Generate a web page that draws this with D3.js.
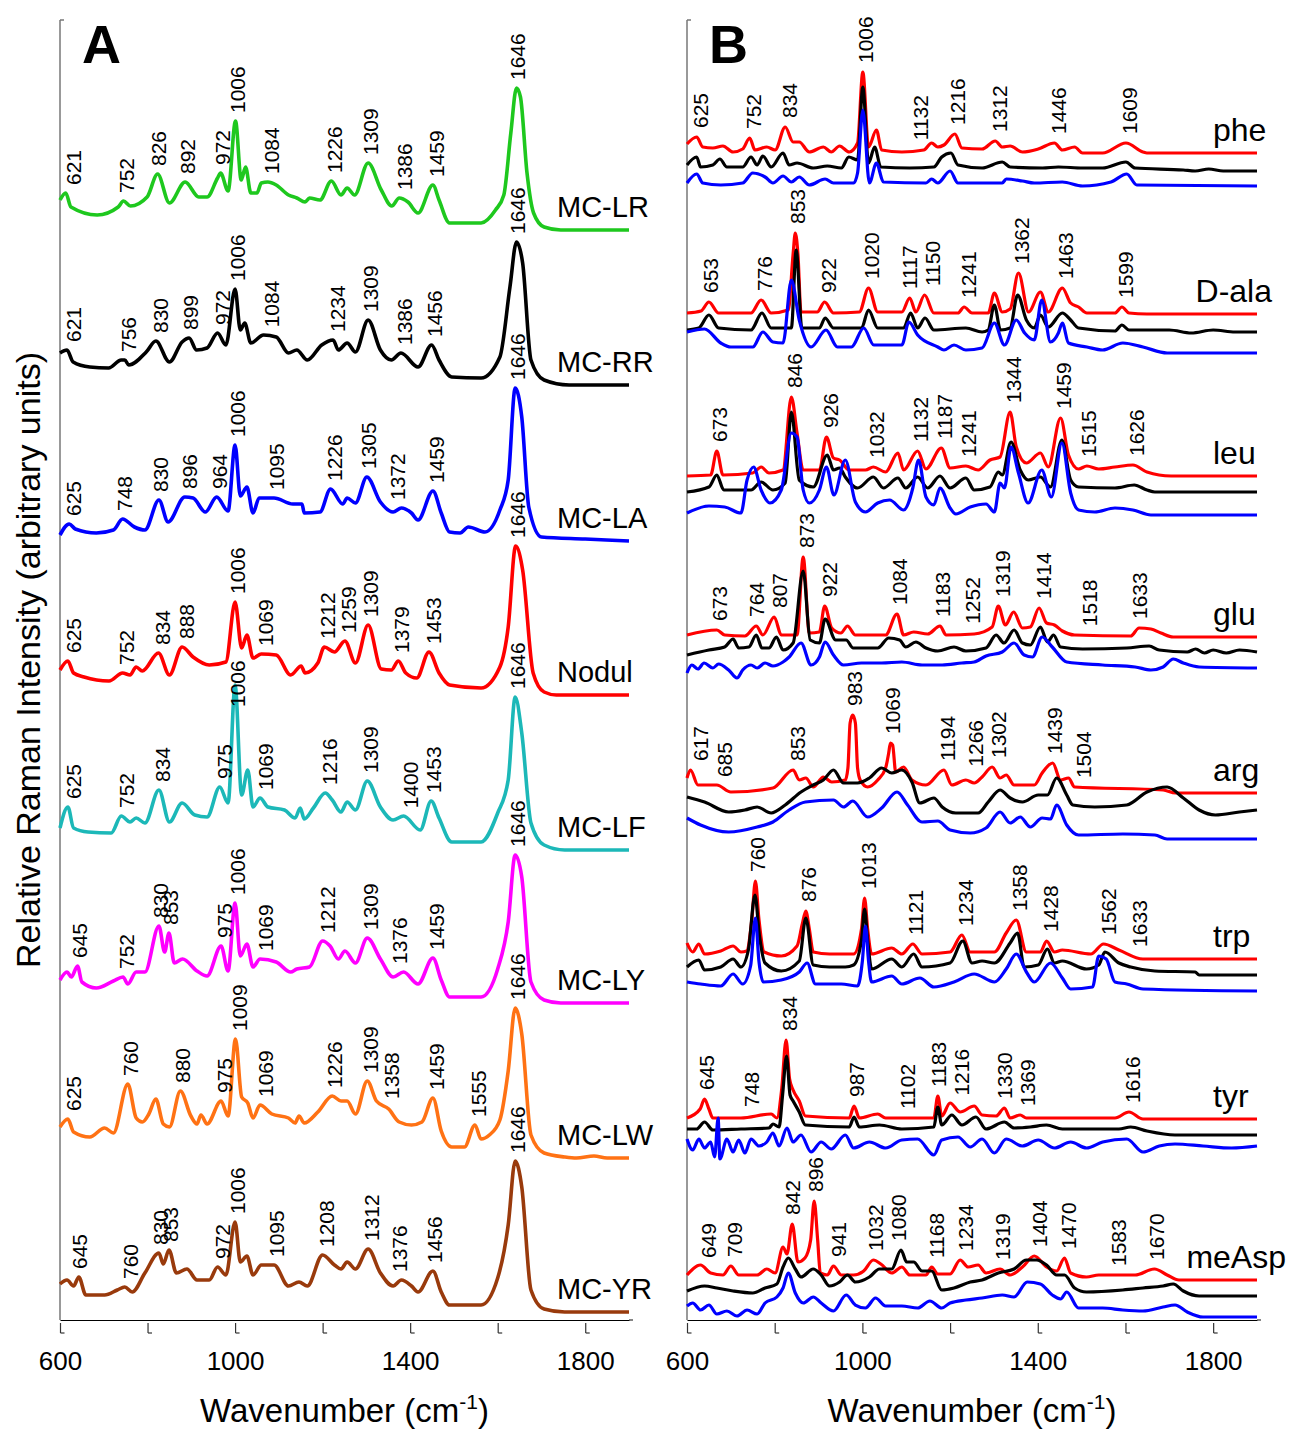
<!DOCTYPE html>
<html>
<head>
<meta charset="utf-8">
<script src="https://cdn.jsdelivr.net/npm/d3@7"></script>
<style>
  body { margin: 0; background: #fff; }
  text { font-family: Arial, "Liberation Sans", sans-serif; fill: #000; }
</style>
</head>
<body>
<div class="chart"></div>
<script>
// ---------- panel A: microcystin spectra (wavenumber, intensity above own baseline) ----------
var namesA = ["MC-LR", "MC-RR", "MC-LA", "Nodul", "MC-LF", "MC-LY", "MC-LW", "MC-YR"];
var colorsA = ["#1ec81e", "#000000", "#0000ff", "#ff0000", "#1cb8b8", "#ff00ff", "#ff7214", "#993a0c"];
var stackA = [1090, 935, 779, 625, 470, 317, 162, 8];

var mcLR = [[600,30],[613,37],[625,23],[685,15],[733,23],[745,29],[761,24],[799,33],[823,56],[850,27],[886,48],[917,33],[936,33],[960,52],[967,57],[984,39],[1001,109],[1014,50],[1024,63],[1036,37],[1050,37],[1060,47],[1075,48],[1094,45],[1122,35],[1141,32],[1160,28],[1170,32],[1194,30],[1220,49],[1242,35],[1256,42],[1273,35],[1304,67],[1334,40],[1358,24],[1375,32],[1395,28],[1418,17],[1452,45],[1466,30],[1490,7],[1562,7],[1595,20],[1614,35],[1630,97],[1643,142],[1652,133],[1667,57],[1682,17],[1706,3],[1744,0],[1900,0]];
var mcRR = [[600,32],[616,35],[630,23],[668,18],[711,17],[740,25],[748,25],[757,20],[797,33],[819,44],[850,23],[879,43],[895,47],[912,35],[936,37],[960,52],[979,40],[1000,96],[1012,55],[1022,62],[1036,42],[1065,50],[1094,48],[1122,32],[1141,35],[1165,25],[1198,40],[1224,45],[1236,35],[1256,42],[1275,33],[1304,65],[1332,35],[1357,25],[1379,32],[1418,18],[1449,40],[1466,25],[1495,8],[1562,7],[1605,28],[1628,98],[1643,143],[1657,122],[1676,25],[1706,5],[1763,0],[1900,0]];
var mcLA = [[600,6],[621,17],[635,12],[683,8],[722,11],[743,22],[770,14],[794,11],[826,41],[847,19],[885,44],[904,43],[932,29],[958,44],[984,30],[1000,96],[1012,45],[1027,54],[1041,28],[1055,43],[1089,43],[1132,37],[1153,37],[1158,28],[1194,29],[1218,52],[1246,37],[1256,43],[1275,38],[1301,64],[1332,39],[1361,29],[1380,33],[1403,28],[1418,21],[1452,50],[1471,28],[1490,9],[1514,8],[1533,14],[1571,9],[1605,31],[1624,61],[1640,153],[1655,124],[1671,34],[1700,4],[1800,2],[1900,0]];
var mcNodul = [[600,25],[618,34],[631,22],[655,18],[712,14],[743,22],[760,20],[774,28],[788,24],[825,42],[850,20],[879,48],[904,38],[941,30],[979,33],[1000,93],[1015,47],[1027,60],[1041,37],[1060,41],[1094,40],[1127,20],[1151,29],[1160,22],[1189,32],[1204,48],[1227,43],[1251,54],[1275,32],[1304,70],[1334,26],[1357,25],[1373,34],[1390,22],[1415,17],[1443,43],[1466,22],[1490,10],[1562,7],[1605,28],[1624,68],[1641,149],[1657,125],[1681,22],[1706,3],[1734,0],[1900,0]];
var mcLF = [[600,22],[618,43],[631,22],[664,18],[717,17],[740,34],[760,28],[774,32],[794,27],[826,60],[850,28],[879,47],[908,35],[936,33],[965,63],[984,47],[1000,165],[1015,55],[1029,80],[1041,43],[1057,52],[1075,43],[1113,40],[1137,32],[1149,42],[1158,31],[1179,42],[1206,57],[1222,50],[1242,38],[1256,48],[1275,40],[1302,69],[1332,43],[1361,30],[1385,34],[1423,20],[1448,49],[1466,32],[1495,8],[1562,8],[1600,37],[1624,70],[1640,153],[1655,117],[1676,27],[1706,5],[1753,0],[1900,0]];
var mcLY = [[600,23],[616,31],[626,26],[640,37],[650,21],[683,15],[722,22],[744,26],[755,19],[774,31],[794,31],[826,77],[839,51],[849,70],[861,40],[880,44],[913,32],[936,27],[968,57],[984,32],[1000,100],[1012,47],[1027,59],[1041,36],[1057,44],[1094,41],[1127,31],[1141,34],[1170,36],[1200,62],[1217,57],[1236,44],[1251,52],[1275,40],[1302,65],[1332,44],[1361,26],[1385,31],[1418,19],[1452,45],[1471,23],[1490,6],[1562,6],[1600,34],[1624,81],[1640,148],[1655,126],[1676,21],[1706,3],[1744,0],[1900,0]];
var mcLW = [[600,31],[618,39],[631,26],[668,21],[702,30],[722,25],[755,74],[774,40],[788,36],[803,44],[819,59],[836,34],[850,31],[875,67],[899,42],[913,34],[922,43],[936,34],[968,57],[984,42],[1001,119],[1015,61],[1029,55],[1041,40],[1057,53],[1084,44],[1122,40],[1137,35],[1146,42],[1158,35],[1189,46],[1222,62],[1242,57],[1256,57],[1275,44],[1302,77],[1323,57],[1351,49],[1375,36],[1403,33],[1427,36],[1452,60],[1471,27],[1495,11],[1524,11],[1548,33],[1562,19],[1581,23],[1605,38],[1624,87],[1640,150],[1655,124],[1676,23],[1706,5],[1753,1],[1780,0],[1820,2],[1850,0],[1900,0]];
var mcYR = [[600,28],[616,32],[631,26],[643,35],[659,17],[702,17],[731,22],[748,25],[765,20],[794,39],[826,59],[836,48],[849,62],[866,39],[890,43],[913,32],[941,32],[960,45],[979,37],[1000,90],[1012,50],[1027,56],[1041,37],[1060,47],[1089,47],[1122,26],[1146,30],[1165,26],[1200,57],[1227,47],[1242,43],[1256,50],[1275,43],[1304,63],[1332,39],[1361,26],[1380,32],[1403,26],[1418,20],[1452,41],[1471,20],[1490,7],[1562,7],[1600,34],[1624,87],[1640,151],[1655,125],[1676,22],[1706,3],[1753,0],[1900,0]];
var spectraA = [mcLR, mcRR, mcLA, mcNodul, mcLF, mcLY, mcLW, mcYR];

var peaksA = [
  [621, 752, 826, 892, 972, 1006, 1084, 1226, 1309, 1386, 1459, 1646],
  [621, 756, 830, 899, 972, 1006, 1084, 1234, 1309, 1386, 1456, 1646],
  [625, 748, 830, 896, 964, 1006, 1095, 1226, 1305, 1372, 1459, 1646],
  [625, 752, 834, 888, 1006, 1069, 1212, 1259, 1309, 1379, 1453, 1646],
  [625, 752, 834, 975, 1006, 1069, 1216, 1309, 1400, 1453, 1646],
  [645, 752, 830, 853, 975, 1006, 1069, 1212, 1309, 1376, 1459, 1646],
  [625, 760, 880, 975, 1009, 1069, 1226, 1309, 1358, 1459, 1555, 1646],
  [645, 760, 830, 853, 972, 1006, 1095, 1208, 1312, 1376, 1456, 1646]
];

// ---------- panel B: amino acids, three traces each (red, black, blue) ----------
var namesB = ["phe", "D-ala", "leu", "glu", "arg", "trp", "tyr", "meAsp"];
var colorsB = ["#ff0000", "#000000", "#0000ff"];
var stackB = [[1167, 1149, 1134], [1006, 988, 967], [844, 828, 805], [683, 668, 652],
              [527, 510, 481], [361, 345, 329], [201, 185, 174], [40, 24, 3]];

var pheRed = [[600,9],[622,16],[636,6],[659,5],[682,7],[705,1],[727,4],[743,15],[755,3],[782,6],[801,3],[824,26],[842,11],[856,11],[879,1],[911,6],[929,1],[948,7],[970,1],[989,10],[1001,81],[1014,6],[1032,23],[1044,3],[1090,1],[1140,3],[1158,10],[1172,6],[1186,8],[1211,19],[1227,5],[1273,4],[1303,12],[1319,6],[1337,7],[1365,1],[1401,4],[1438,10],[1456,3],[1484,6],[1502,0],[1548,0],[1601,10],[1640,1],[1649,0],[1900,0]];
var pheBlack = [[600,6],[622,14],[631,4],[659,6],[675,12],[691,4],[727,4],[746,14],[760,6],[773,15],[792,4],[819,18],[833,6],[851,8],[888,3],[920,5],[952,3],[969,14],[989,11],[1001,84],[1014,8],[1028,24],[1042,4],[1108,3],[1163,4],[1181,14],[1202,18],[1218,6],[1273,3],[1319,9],[1337,4],[1411,3],[1447,4],[1502,3],[1548,3],[1601,9],[1622,3],[1732,1],[1759,0],[1790,2],[1823,0],[1900,0]];
var pheBlue = [[600,3],[622,12],[636,3],[677,1],[727,3],[750,13],[778,9],[796,3],[819,10],[838,4],[856,9],[879,1],[915,7],[934,3],[980,3],[989,13],[1001,76],[1016,3],[1032,23],[1048,4],[1145,3],[1158,7],[1172,3],[1200,15],[1218,3],[1319,3],[1328,7],[1365,5],[1392,3],[1456,4],[1502,0],[1567,4],[1603,12],[1626,1],[1900,0]];

var dalaRed = [[600,1],[632,3],[650,12],[672,1],[746,1],[769,14],[792,1],[831,4],[842,60],[847,81],[853,60],[860,2],[897,2],[914,12],[934,1],[993,2],[1014,26],[1035,2],[1090,2],[1108,16],[1122,2],[1142,19],[1163,1],[1218,1],[1232,7],[1250,1],[1287,1],[1301,21],[1319,2],[1337,5],[1356,41],[1379,2],[1406,22],[1424,2],[1456,26],[1475,11],[1493,7],[1512,1],[1576,1],[1592,7],[1608,1],[1649,0],[1900,0]];
var dalaBlack = [[600,2],[627,4],[650,17],[672,4],[746,2],[771,19],[792,4],[838,4],[849,82],[862,4],[902,4],[915,14],[934,4],[998,4],[1014,22],[1035,4],[1094,4],[1110,19],[1126,4],[1143,14],[1163,2],[1236,4],[1273,0],[1287,2],[1301,27],[1315,2],[1337,4],[1354,37],[1374,12],[1392,4],[1406,17],[1424,5],[1456,19],[1475,12],[1493,4],[1576,1],[1592,7],[1608,2],[1700,2],[1750,-1],[1800,2],[1850,0],[1900,0]];
var dalaBlue = [[600,21],[640,24],[677,10],[700,6],[750,6],[773,21],[796,11],[819,10],[838,73],[856,33],[883,6],[917,23],[943,6],[975,6],[1003,25],[1026,8],[1090,8],[1106,31],[1126,18],[1172,6],[1186,3],[1209,8],[1236,3],[1273,5],[1301,30],[1324,8],[1351,33],[1370,20],[1392,13],[1409,53],[1429,11],[1447,20],[1456,30],[1470,10],[1512,6],[1548,3],[1594,10],[1640,6],[1695,0],[1900,0]];

var leuRed = [[600,0],[654,1],[668,25],[682,1],[750,3],[769,9],[787,3],[819,6],[838,79],[851,43],[865,6],[902,6],[918,39],[934,18],[948,16],[970,6],[1007,6],[1025,9],[1053,4],[1081,23],[1094,6],[1126,25],[1145,7],[1180,28],[1200,8],[1236,10],[1264,6],[1291,16],[1314,19],[1337,64],[1351,29],[1374,13],[1406,23],[1424,9],[1452,58],[1470,21],[1493,7],[1512,10],[1539,7],[1576,9],[1617,11],[1649,4],[1704,0],[1900,0]];
var leuBlack = [[600,0],[650,5],[668,17],[684,2],[746,2],[769,10],[796,2],[824,9],[838,80],[856,12],[888,5],[920,37],[934,22],[948,24],[961,15],[989,4],[1025,15],[1048,4],[1081,14],[1099,4],[1126,15],[1149,4],[1177,16],[1200,4],[1236,14],[1255,2],[1291,5],[1310,20],[1319,17],[1339,50],[1360,22],[1378,12],[1406,15],[1429,5],[1455,52],[1475,12],[1493,5],[1576,4],[1620,7],[1649,2],[1667,0],[1900,0]];
var leuBlue = [[600,2],[650,9],[686,8],[723,2],[737,35],[752,48],[769,25],[789,12],[815,25],[838,82],[851,78],[865,25],[879,12],[902,25],[918,48],[935,20],[961,55],[984,13],[1007,3],[1035,12],[1062,15],[1094,5],[1115,27],[1128,55],[1145,18],[1163,10],[1177,27],[1200,7],[1213,1],[1246,8],[1282,11],[1301,3],[1314,32],[1324,27],[1339,68],[1356,42],[1378,12],[1409,45],[1431,18],[1455,72],[1475,22],[1493,5],[1530,3],[1576,7],[1617,5],[1658,0],[1900,0]];

var gluRed = [[600,2],[668,7],[686,2],[732,1],[758,11],[773,2],[799,20],[815,2],[851,2],[865,80],[879,4],[902,5],[914,31],[930,9],[951,4],[966,11],[984,2],[1053,2],[1079,23],[1094,2],[1117,5],[1149,3],[1177,11],[1191,2],[1255,3],[1296,10],[1310,31],[1326,12],[1345,25],[1365,9],[1383,10],[1403,29],[1420,14],[1438,12],[1456,6],[1484,2],[1612,1],[1631,9],[1658,8],[1681,4],[1709,0],[1900,0]];
var gluBlack = [[600,-3],[650,2],[686,5],[705,13],[718,4],[741,5],[758,17],[771,4],[787,4],[804,15],[819,2],[842,9],[865,81],[881,12],[902,9],[915,33],[939,12],[963,12],[979,4],[1035,4],[1060,14],[1085,12],[1099,5],[1122,10],[1145,4],[1172,1],[1209,5],[1236,1],[1282,4],[1305,17],[1323,9],[1346,22],[1365,9],[1383,7],[1406,25],[1422,10],[1436,17],[1452,5],[1502,3],[1603,4],[1654,6],[1677,2],[1741,0],[1760,3],[1780,-1],[1800,2],[1830,-1],[1860,2],[1900,0]];
var gluBlue = [[600,-5],[611,3],[625,-1],[639,5],[659,0],[672,4],[695,-2],[714,-10],[727,-2],[746,3],[760,0],[778,5],[796,2],[819,6],[833,11],[860,25],[883,3],[902,11],[915,26],[934,13],[957,3],[998,5],[1044,5],[1090,6],[1136,3],[1182,3],[1227,5],[1255,6],[1282,12],[1319,16],[1346,25],[1369,13],[1388,11],[1410,31],[1433,21],[1466,6],[1548,3],[1622,1],[1658,-2],[1686,1],[1709,9],[1732,5],[1768,1],[1900,0]];

var argRed = [[600,15],[608,23],[625,8],[668,8],[700,1],[796,5],[842,23],[856,13],[871,15],[888,6],[911,16],[930,11],[961,13],[967,25],[972,70],[978,78],[984,70],[989,25],[995,13],[1012,6],[1035,13],[1053,25],[1060,40],[1064,50],[1069,48],[1076,21],[1094,26],[1113,13],[1145,8],[1186,23],[1204,8],[1236,13],[1255,10],[1273,16],[1296,26],[1314,15],[1328,18],[1346,8],[1392,8],[1410,20],[1434,30],[1452,13],[1470,15],[1484,6],[1686,3],[1714,0],[1900,0]];
var argBlack = [[600,13],[640,8],[695,-2],[732,0],[760,3],[792,-3],[824,5],[860,18],[888,25],[911,30],[934,40],[957,27],[989,27],[1016,32],[1044,42],[1067,37],[1090,40],[1113,28],[1131,7],[1163,12],[1182,3],[1213,-3],[1264,-3],[1287,8],[1314,20],[1337,12],[1365,8],[1401,15],[1422,15],[1443,32],[1466,15],[1480,5],[1530,3],[1603,5],[1649,18],[1695,23],[1732,12],[1768,0],[1805,-5],[1860,-2],[1900,0]];
var argBlue = [[600,21],[631,14],[695,7],[760,12],[796,17],[833,29],[870,37],[934,39],[957,32],[978,38],[1012,22],[1044,31],[1079,47],[1103,34],[1136,17],[1172,18],[1200,9],[1246,6],[1282,11],[1314,27],[1337,16],[1360,22],[1383,12],[1410,21],[1429,20],[1443,34],[1466,14],[1493,4],[1594,5],[1667,4],[1695,0],[1900,0]];

var trpRed = [[600,16],[613,7],[627,15],[640,5],[677,8],[705,13],[723,7],[736,8],[748,40],[756,78],[764,40],[776,7],[815,3],[851,13],[863,35],[871,48],[879,30],[888,7],[925,5],[980,5],[998,30],[1005,61],[1012,30],[1021,5],[1067,11],[1090,5],[1115,15],[1136,5],[1200,7],[1227,24],[1246,7],[1301,7],[1328,26],[1351,39],[1374,7],[1406,7],[1420,18],[1438,7],[1456,9],[1521,5],[1550,15],[1585,9],[1640,0],[1900,0]];
var trpBlack = [[600,8],[627,15],[640,5],[677,8],[705,16],[723,8],[740,25],[755,80],[765,40],[778,12],[815,4],[856,14],[871,57],[888,10],[925,8],[961,8],[980,10],[998,35],[1005,66],[1012,35],[1021,6],[1067,16],[1090,8],[1117,21],[1136,8],[1200,12],[1229,34],[1250,12],[1273,14],[1301,12],[1337,32],[1354,42],[1369,8],[1401,10],[1422,26],[1438,12],[1456,14],[1511,6],[1539,10],[1553,23],[1585,12],[1612,8],[1667,4],[1759,3],[1768,0],[1900,0]];
var trpBlue = [[600,9],[631,7],[677,5],[705,17],[727,7],[745,25],[756,73],[764,30],[774,9],[815,11],[856,19],[874,28],[893,7],[952,7],[989,5],[1000,30],[1007,65],[1014,30],[1021,9],[1067,15],[1090,7],[1131,13],[1163,4],[1209,9],[1255,17],[1301,9],[1328,22],[1351,37],[1374,19],[1392,9],[1429,28],[1456,13],[1475,2],[1525,4],[1539,35],[1556,32],[1576,9],[1603,7],[1640,2],[1900,0]];

var tyrRed = [[600,1],[630,10],[640,20],[650,10],[659,1],[723,1],[792,5],[805,1],[816,30],[826,79],[834,40],[842,29],[856,18],[870,3],[970,1],[981,13],[993,1],[1035,5],[1053,1],[1163,1],[1172,23],[1181,3],[1200,16],[1223,7],[1255,13],[1273,4],[1305,3],[1324,11],[1337,1],[1360,4],[1374,1],[1576,1],[1608,7],[1640,0],[1900,0]];
var tyrBlack = [[600,6],[622,6],[640,13],[659,5],[723,6],[787,7],[796,11],[810,8],[818,40],[827,79],[835,40],[842,34],[856,23],[870,10],[970,8],[981,18],[993,8],[1039,10],[1090,6],[1163,8],[1172,28],[1181,10],[1204,20],[1227,10],[1259,18],[1282,6],[1324,13],[1346,7],[1383,8],[1420,10],[1456,6],[1585,6],[1612,8],[1649,4],[1713,0],[1900,0]];
var tyrBlue = [[600,7],[613,-4],[627,7],[640,-2],[654,4],[663,-11],[671,28],[675,-13],[691,7],[705,-6],[718,6],[732,-7],[746,7],[764,0],[782,4],[796,13],[810,0],[828,18],[842,4],[860,11],[883,-6],[906,4],[929,-3],[961,11],[980,-2],[1016,4],[1053,-2],[1090,6],[1126,7],[1163,-9],[1181,6],[1218,9],[1246,-1],[1273,7],[1301,-7],[1328,7],[1365,0],[1401,6],[1438,-2],[1475,4],[1511,-2],[1548,4],[1603,7],[1640,-6],[1677,0],[1713,2],[1777,0],[1842,-2],[1900,0]];

var measpRed = [[600,5],[631,15],[654,7],[682,5],[700,14],[718,5],[760,5],[782,11],[801,7],[819,33],[828,26],[840,56],[853,18],[869,22],[882,40],[890,79],[898,40],[904,7],[920,5],[934,14],[952,5],[980,5],[1003,9],[1025,20],[1042,16],[1067,7],[1090,13],[1108,5],[1145,5],[1158,13],[1172,6],[1200,6],[1223,20],[1241,13],[1264,15],[1282,7],[1314,11],[1337,5],[1365,13],[1392,24],[1420,13],[1443,9],[1461,22],[1475,7],[1511,3],[1539,5],[1622,5],[1666,11],[1695,5],[1722,0],[1900,0]];
var measpBlack = [[600,5],[640,10],[668,8],[705,5],[750,3],[778,8],[805,12],[819,29],[831,38],[847,27],[860,19],[888,27],[906,21],[925,10],[948,14],[966,21],[984,14],[1016,19],[1039,27],[1067,27],[1088,46],[1101,34],[1117,34],[1136,25],[1158,25],[1181,6],[1209,8],[1246,14],[1273,16],[1310,23],[1346,27],[1374,36],[1397,36],[1420,31],[1443,21],[1461,21],[1484,8],[1511,4],[1594,6],[1640,8],[1686,10],[1709,12],[1732,5],[1768,0],[1900,0]];
var measpBlue = [[600,11],[613,14],[631,7],[650,12],[668,3],[691,6],[714,1],[737,7],[760,3],[778,14],[805,20],[819,29],[831,44],[847,24],[865,14],[888,20],[906,14],[934,6],[963,22],[984,12],[1007,9],[1030,19],[1053,11],[1090,11],[1126,9],[1154,16],[1181,9],[1200,14],[1236,17],[1273,19],[1319,22],[1346,20],[1376,35],[1406,33],[1433,22],[1452,18],[1466,25],[1493,9],[1548,9],[1594,7],[1640,6],[1686,10],[1713,12],[1741,5],[1777,0],[1900,0]];

var spectraB = [
  [pheRed, pheBlack, pheBlue],
  [dalaRed, dalaBlack, dalaBlue],
  [leuRed, leuBlack, leuBlue],
  [gluRed, gluBlack, gluBlue],
  [argRed, argBlack, argBlue],
  [trpRed, trpBlack, trpBlue],
  [tyrRed, tyrBlack, tyrBlue],
  [measpRed, measpBlack, measpBlue]
];

var peaksB = [
  [625, 752, 834, 1006, 1132, 1216, 1312, 1446, 1609],
  [653, 776, 853, 922, 1020, 1117, 1150, 1241, 1362, 1463, 1599],
  [673, 846, 926, 1032, 1132, 1187, 1241, 1344, 1459, 1515, 1626],
  [673, 764, 807, 873, 922, 1084, 1183, 1252, 1319, 1414, 1518, 1633],
  [617, 685, 853, 983, 1069, 1194, 1266, 1302, 1439, 1504],
  [760, 876, 1013, 1121, 1234, 1358, 1428, 1562, 1633],
  [645, 748, 834, 987, 1102, 1183, 1216, 1330, 1369, 1616],
  [649, 709, 842, 896, 941, 1032, 1080, 1168, 1234, 1319, 1404, 1470, 1583, 1670]
];

var xTicks = [600, 800, 1000, 1200, 1400, 1600, 1800];
var xTickLabels = [600, 1000, 1400, 1800];

// ---------- layout ----------
var W = 1294, H = 1429;
var svg = d3.select(".chart").append("svg")
  .attr("width", W)
  .attr("height", H);

var y = d3.scaleLinear().domain([0, 1300]).range([1320, 20]);
var xA = d3.scaleLinear().domain([600, 1900]).range([60, 629]);
var xB = d3.scaleLinear().domain([600, 1900]).range([687, 1257]);

function valueAt(data, wn) {
  for (var i = 1; i < data.length; i++) {
    if (data[i][0] >= wn) {
      var a = data[i - 1], b = data[i];
      return a[1] + (wn - a[0]) / (b[0] - a[0]) * (b[1] - a[1]);
    }
  }
  return data[data.length - 1][1];
}

function localMax(data, lo, hi) {
  var m = Math.max(valueAt(data, lo), valueAt(data, hi));
  data.forEach(function(p) {
    if (p[0] >= lo && p[0] <= hi) m = Math.max(m, p[1]);
  });
  return m;
}

function drawAxes(x, x0, x1) {
  var gx = svg.append("g")
    .attr("transform", "translate(0,1320)")
    .call(d3.axisBottom(x).tickValues(xTicks).tickSizeInner(13).tickSizeOuter(0)
      .tickFormat(function(d) { return xTickLabels.indexOf(d) >= 0 ? d : ""; }));
  gx.select(".domain").attr("stroke", "#000").attr("stroke-width", 1.2);
  gx.selectAll(".tick line").attr("stroke", "#333").attr("stroke-width", 1.2).attr("y1", 3);
  gx.selectAll(".tick").append("line")
    .attr("x1", 0).attr("x2", 4).attr("y1", 13).attr("y2", 13)
    .attr("stroke", "#333").attr("stroke-width", 1.2);
  gx.selectAll("text")
    .attr("y", 50).attr("dy", 0)
    .style("font-size", "26px")
    .style("font-family", "Arial, 'Liberation Sans', sans-serif");
  // small end mark at the right of the axis
  svg.append("line")
    .attr("x1", x1).attr("x2", x1 + 4)
    .attr("y1", 1320).attr("y2", 1320)
    .attr("stroke", "#333").attr("stroke-width", 1.2);

  svg.append("line")
    .attr("x1", x0).attr("x2", x0)
    .attr("y1", y(1300)).attr("y2", y(0))
    .attr("stroke", "#777").attr("stroke-width", 1.5);
  svg.append("line")
    .attr("x1", x0).attr("x2", x0 + 4)
    .attr("y1", y(1300)).attr("y2", y(1300))
    .attr("stroke", "#777").attr("stroke-width", 1.5);

  var t = svg.append("text")
    .attr("x", (x0 + x1) / 2)
    .attr("y", 1422)
    .attr("text-anchor", "middle")
    .style("font-size", "33px");
  t.append("tspan").text("Wavenumber (cm");
  t.append("tspan").attr("dy", -13).style("font-size", "21px").text("-1");
  t.append("tspan").attr("dy", 13).text(")");
}

function drawPeakLabel(cx, wn, top) {
  svg.append("text")
    .attr("transform", "translate(" + cx + "," + y(top) + ") rotate(-90)")
    .attr("dy", "0.36em")
    .style("font-size", "21px")
    .text(wn);
}

var line = function(x, off) {
  return d3.line()
    .x(function(d) { return x(d[0]); })
    .y(function(d) { return y(d[1] + off); })
    .curve(d3.curveMonotoneX);
};

// ---------- panel A ----------
drawAxes(xA, 60, 629);

spectraA.forEach(function(data, i) {
  svg.append("path")
    .datum(data)
    .attr("fill", "none")
    .attr("stroke", colorsA[i])
    .attr("stroke-width", 3.6)
    .attr("stroke-linejoin", "round")
    .attr("d", line(xA, stackA[i]));

  svg.append("text")
    .attr("x", 557)
    .attr("y", y(stackA[i]) - 13)
    .style("font-size", "29px")
    .text(namesA[i]);

  peaksA[i].forEach(function(wn) {
    var m = localMax(data, wn - 14, wn + 10);
    if (wn < 1600) m = Math.min(m, 135);
    drawPeakLabel(Math.max(xA(wn), 73), wn, stackA[i] + m + 8);
  });
});

// ---------- panel B ----------
drawAxes(xB, 687, 1257);

spectraB.forEach(function(group, i) {
  group.forEach(function(data, j) {
    svg.append("path")
      .datum(data)
      .attr("fill", "none")
      .attr("stroke", colorsB[j])
      .attr("stroke-width", 3.2)
      .attr("stroke-linejoin", "round")
      .attr("d", line(xB, stackB[i][j]));
  });

  var nm = svg.append("text")
    .attr("y", y(stackB[i][0]) - 12)
    .style("font-size", "32px")
    .text(namesB[i]);
  var w = nm.node().getComputedTextLength();
  nm.attr("x", w > 70 ? 1272 + (w > 90 ? 14 : 0) - w : 1213);

  // spread neighbouring labels so they do not sit on top of each other
  var xs = peaksB[i].map(function(wn) { return Math.max(xB(wn), 700); });
  for (var k = 0; k < 6; k++) {
    for (var n = 1; n < xs.length; n++) {
      var d = xs[n] - xs[n - 1];
      if (d < 23) { xs[n - 1] -= (23 - d) / 2; xs[n] += (23 - d) / 2; }
    }
  }

  peaksB[i].forEach(function(wn, n) {
    var top = -Infinity;
    group.forEach(function(data, j) {
      top = Math.max(top, stackB[i][j] + localMax(data, wn - 12, wn + 10));
    });
    drawPeakLabel(xs[n], wn, top + 9);
  });
});

// ---------- titles ----------
svg.append("text")
  .attr("transform", "translate(40,660) rotate(-90)")
  .attr("text-anchor", "middle")
  .style("font-size", "34px")
  .text("Relative Raman Intensity (arbitrary units)");

svg.append("text")
  .attr("x", 82).attr("y", 63)
  .style("font-size", "54px").style("font-weight", "bold")
  .text("A");
svg.append("text")
  .attr("x", 709).attr("y", 63)
  .style("font-size", "54px").style("font-weight", "bold")
  .text("B");
</script>
</body>
</html>
